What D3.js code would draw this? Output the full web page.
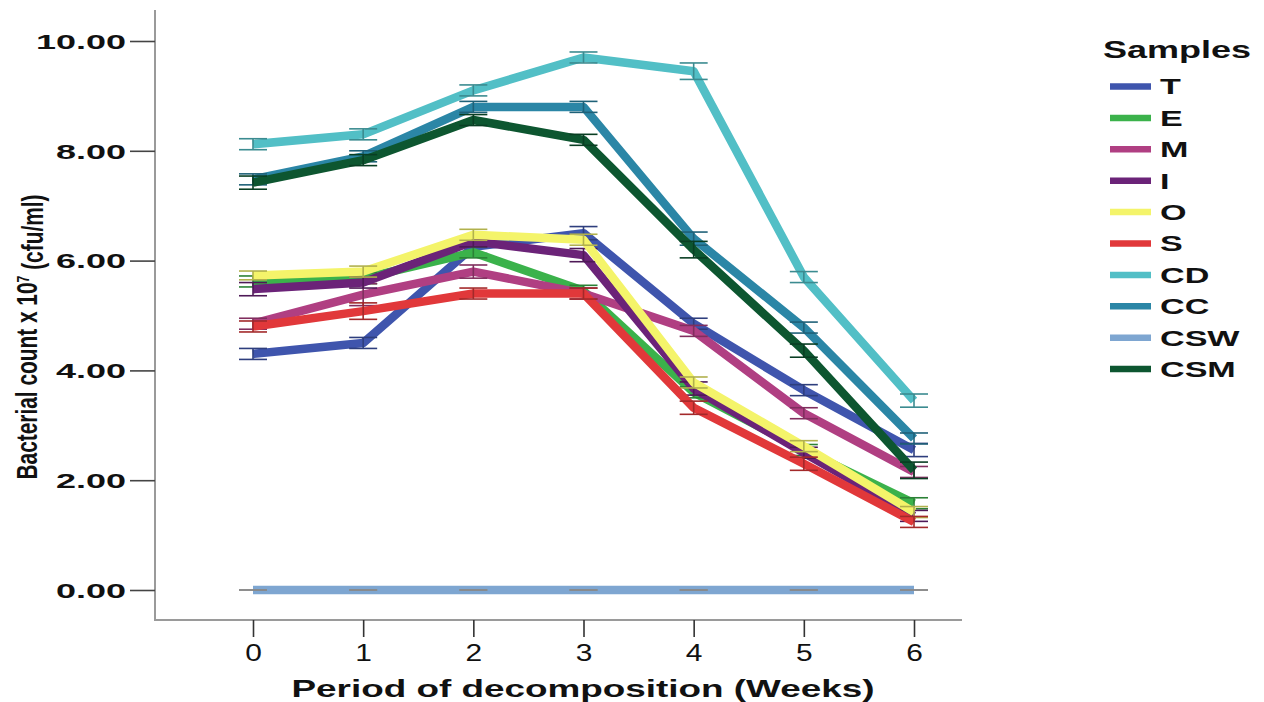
<!DOCTYPE html>
<html>
<head>
<meta charset="utf-8">
<script src="https://cdn.jsdelivr.net/npm/d3@7"></script>
<style>
  body { margin: 0; background: #fff; }
  text { font-family: "Liberation Sans", Arial, sans-serif; fill: #111; }
</style>
</head>
<body>
<svg id="chart" width="1264" height="702"></svg>
<script>
// weeks on the x axis
const weeks = [0, 1, 2, 3, 4, 5, 6];
const yTicks = [0, 2, 4, 6, 8, 10];

const samples = ["T", "E", "M", "I", "O", "S", "CD", "CC", "CSW", "CSM"];
const colors = ["#3f55ad", "#3bb24b", "#b03f82", "#6b2378", "#f4f46a", "#e1383a",
                "#52bfc6", "#2b86a6", "#7ea6d1", "#0d5630"];

// mean values (x 10^7 cfu/ml)
const valT   = [4.30, 4.50, 6.25, 6.50, 4.85, 3.64, 2.55];
const valE   = [5.62, 5.68, 6.15, 5.45, 3.60, 2.55, 1.58];
const valM   = [4.85, 5.38, 5.80, 5.40, 4.72, 3.22, 2.15];
const valI   = [5.48, 5.60, 6.35, 6.10, 3.67, 2.50, 1.35];
const valO   = [5.73, 5.80, 6.47, 6.38, 3.78, 2.62, 1.42];
const valS   = [4.80, 5.08, 5.40, 5.40, 3.32, 2.30, 1.24];
const valCD  = [8.12, 8.30, 9.10, 9.70, 9.45, 5.70, 3.45];
const valCC  = [7.48, 7.90, 8.80, 8.80, 6.40, 4.78, 2.76];
const valCSW = [0, 0, 0, 0, 0, 0, 0];
const valCSM = [7.42, 7.83, 8.56, 8.20, 6.20, 4.36, 2.18];

// error bar half-widths
const errT   = [0.10, 0.10, 0.12, 0.12, 0.10, 0.10, 0.12];
const errE   = [0.10, 0.10, 0.10, 0.10, 0.10, 0.10, 0.10];
const errM   = [0.10, 0.20, 0.12, 0.10, 0.10, 0.10, 0.10];
const errI   = [0.12, 0.10, 0.10, 0.12, 0.12, 0.10, 0.10];
const errO   = [0.08, 0.10, 0.10, 0.10, 0.10, 0.10, 0.10];
const errS   = [0.10, 0.15, 0.10, 0.10, 0.12, 0.12, 0.10];
const errCD  = [0.10, 0.10, 0.10, 0.10, 0.15, 0.10, 0.12];
const errCC  = [0.10, 0.10, 0.10, 0.10, 0.12, 0.10, 0.10];
const errCSW = [0, 0, 0, 0, 0, 0, 0];
const errCSM = [0.12, 0.10, 0.10, 0.10, 0.15, 0.12, 0.15];

const values = [valT, valE, valM, valI, valO, valS, valCD, valCC, valCSW, valCSM];
const errors = [errT, errE, errM, errI, errO, errS, errCD, errCC, errCSW, errCSM];

const series = samples.map((name, i) => ({
  name: name,
  color: colors[i],
  points: weeks.map((w, j) => ({week: w, value: values[i][j], err: errors[i][j]}))
}));

const svg = d3.select("#chart");

let scaleX = d3.scaleLinear().domain([0, 6]).range([253, 914]),
    scaleY = d3.scaleLinear().domain([0, 10]).range([590, 41]);

// stretch text horizontally like the wide bold labels of the original
function stretch(sel, k) {
  sel.each(function() {
    const len = this.getComputedTextLength();
    d3.select(this).attr("textLength", len * k).attr("lengthAdjust", "spacingAndGlyphs");
  });
}

// axis frame lines
svg.append("line").attr("x1", 155).attr("x2", 155).attr("y1", 10).attr("y2", 621)
  .attr("stroke", "#9a9a9a").attr("stroke-width", 2);
svg.append("line").attr("x1", 154).attr("x2", 962).attr("y1", 620).attr("y2", 620)
  .attr("stroke", "#9a9a9a").attr("stroke-width", 2);

// y axis
let yAxis = svg.append("g")
  .attr("transform", "translate(155,0)")
  .call(d3.axisLeft(scaleY).tickValues(yTicks).tickSize(25).tickPadding(4)
        .tickFormat(d3.format(".2f")));
yAxis.select(".domain").remove();
yAxis.selectAll(".tick line").attr("stroke", "#444").attr("stroke-width", 1.6);
yAxis.selectAll(".tick text")
  .style("font-size", "20px").style("font-weight", "bold")
  .attr("fill", "#1a1a1a").attr("dy", "0.36em")
  .call(stretch, 1.8);

// x axis
let xAxis = svg.append("g")
  .attr("transform", "translate(0,620)")
  .call(d3.axisBottom(scaleX).tickValues(weeks).tickSize(17).tickPadding(8)
        .tickFormat(d3.format("d")));
xAxis.select(".domain").remove();
xAxis.selectAll(".tick line").attr("stroke", "#333").attr("stroke-width", 1.6);
xAxis.selectAll(".tick text")
  .style("font-size", "23px").attr("fill", "#1a1a1a")
  .call(stretch, 1.3);

// axis titles
svg.append("text")
  .attr("x", 583).attr("y", 697)
  .style("text-anchor", "middle").style("font-size", "23px").style("font-weight", "bold")
  .text("Period of decomposition (Weeks)")
  .attr("textLength", 583).attr("lengthAdjust", "spacingAndGlyphs");

// condensed y title: tall glyphs squeezed along the text
let yTitle = svg.append("text")
  .attr("transform", "translate(37,337)rotate(-90)")
  .style("text-anchor", "middle").style("font-size", "29px").style("font-weight", "bold")
  .attr("textLength", 285).attr("lengthAdjust", "spacingAndGlyphs");
yTitle.append("tspan").text("Bacterial count x 10");
yTitle.append("tspan").attr("dy", "-0.5em").style("font-size", "17px").text("7");
yTitle.append("tspan").attr("dy", "0.5em").text(" (cfu/ml)");

// error bars and lines
const line = d3.line().x(d => scaleX(d.week)).y(d => scaleY(d.value));
const cap = 14;

const groups = svg.append("g").attr("id", "lines").selectAll("g.series")
  .data(series)
  .enter()
  .append("g")
  .attr("class", "series");

groups.append("path")
  .attr("d", d => line(d.points))
  .attr("fill", "none")
  .attr("stroke", d => d.color)
  .attr("stroke-width", 8.5)
  .attr("stroke-linejoin", "round");

groups.each(function(s) {
  const barColor = s.name === "CSW" ? "#8a8a8a" : d3.color(s.color).darker(0.9);
  const bars = d3.select(this).selectAll("g.err")
    .data(s.points)
    .enter()
    .append("g")
    .attr("class", "err")
    .attr("stroke", barColor)
    .attr("stroke-width", 1.6);
  bars.append("line")
    .attr("x1", d => scaleX(d.week)).attr("x2", d => scaleX(d.week))
    .attr("y1", d => scaleY(d.value - d.err)).attr("y2", d => scaleY(d.value + d.err));
  bars.append("line")
    .attr("x1", d => scaleX(d.week) - cap).attr("x2", d => scaleX(d.week) + cap)
    .attr("y1", d => scaleY(d.value + d.err)).attr("y2", d => scaleY(d.value + d.err));
  bars.append("line")
    .attr("x1", d => scaleX(d.week) - cap).attr("x2", d => scaleX(d.week) + cap)
    .attr("y1", d => scaleY(d.value - d.err)).attr("y2", d => scaleY(d.value - d.err));
});

// legend
const legend = svg.append("g").attr("transform", "translate(1110,0)");
legend.append("text")
  .attr("x", -7).attr("y", 58)
  .style("font-size", "24px").style("font-weight", "bold")
  .text("Samples")
  .call(stretch, 1.5);

const items = legend.selectAll("g.item")
  .data(series)
  .enter()
  .append("g")
  .attr("class", "item")
  .attr("transform", (d, i) => "translate(0," + (86.5 + i * 31.4) + ")");

items.append("line")
  .attr("x1", 0).attr("x2", 41)
  .attr("stroke", d => d.color).attr("stroke-width", 6.5);

items.append("text")
  .attr("x", 50).attr("dy", "0.36em")
  .style("font-size", "22px").style("font-weight", "bold")
  .text(d => d.name)
  .call(stretch, 1.55);
</script>
</body>
</html>
